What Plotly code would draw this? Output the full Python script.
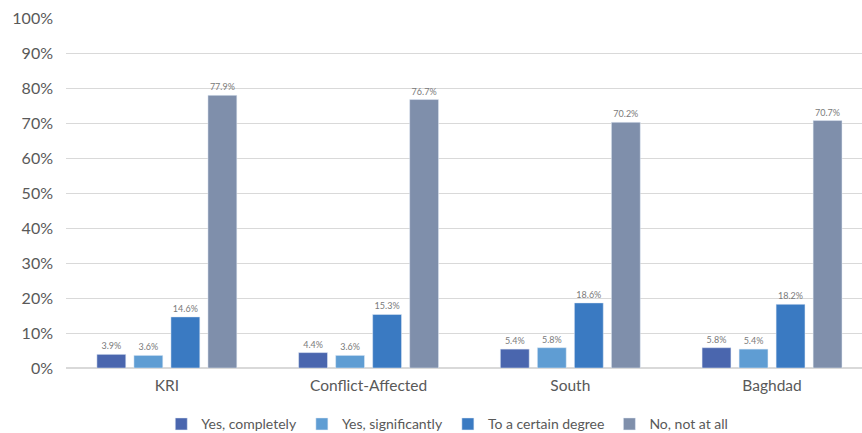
import plotly.graph_objects as go

categories = ["KRI", "Conflict-Affected", "South", "Baghdad"]
series_names = ["Yes, completely", "Yes, significantly", "To a certain degree", "No, not at all"]
yes_completely = [3.9, 4.4, 5.4, 5.8]
yes_significantly = [3.6, 3.6, 5.8, 5.4]
certain_degree = [14.6, 15.3, 18.6, 18.2]
not_at_all = [77.9, 76.7, 70.2, 70.7]
colors = ["#4a66ae", "#5f9dd3", "#3a7ac2", "#7f8fab"]
y_ticks = [0, 10, 20, 30, 40, 50, 60, 70, 80, 90, 100]

fig = go.Figure()
for name, vals, col in zip(series_names,
                           [yes_completely, yes_significantly, certain_degree, not_at_all],
                           colors):
    fig.add_trace(go.Bar(
        x=categories, y=vals, name=name, marker_color=col,
        text=[f"{v:.1f}%" for v in vals],
        textposition="outside", cliponaxis=False,
        textfont=dict(family="Lato", size=9, color="#7a7a7a"),
    ))

fig.update_layout(
    width=862, height=433,
    margin=dict(l=66, r=0, t=18, b=65),
    paper_bgcolor="white", plot_bgcolor="white",
    barmode="group", bargap=0.266, bargroupgap=0.22,
    font=dict(family="Lato", color="#595959"),
    legend=dict(orientation="h", x=0.479, xanchor="center",
                yref="container", y=0.02, yanchor="middle",
                font=dict(family="Lato", size=14, color="#595959"),
                traceorder="normal", itemwidth=30),
    xaxis=dict(range=[-0.5, 3.446], showgrid=False, showline=False,
               tickfont=dict(size=15.5, color="#595959"), ticks="",
               ticklabelstandoff=6),
    yaxis=dict(range=[0, 100], tickvals=y_ticks,
               ticktext=[f"{t}%" for t in y_ticks],
               showgrid=True, gridcolor="#d9d9d9", gridwidth=1,
               zeroline=True, zerolinecolor="#d9d9d9",
               tickfont=dict(size=16, color="#595959"), ticks="",
               ticklabelstandoff=12),
)

fig.write_html("out.html")
